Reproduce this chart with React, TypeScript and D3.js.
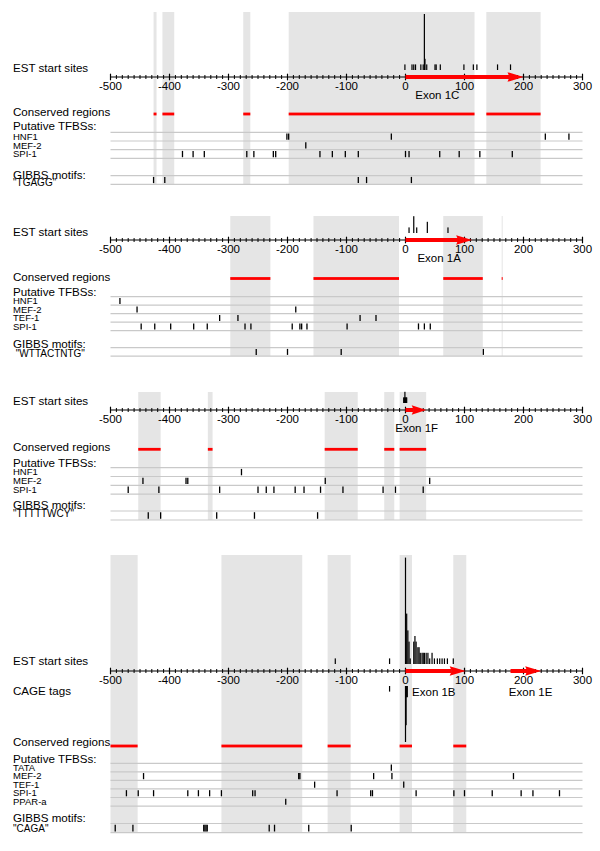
import React from "react";
import * as d3 from "d3";

// ---------- shared ----------
const AXIS_DOMAIN: [number, number] = [-500, 300];
const MAJOR_TICKS = [-500, -400, -300, -200, -100, 0, 100, 200, 300];
const MINOR_STEP = 10;

// ---------- Panel 1 : Exon 1C ----------
const p1Est: [number, number][] = [
  [-1, 1], [11, 1], [14, 1], [17, 1], [26, 1], [30, 1], [32, 10], [33, 2], [36, 1],
  [50, 1], [52, 1], [59, 1], [99, 1], [115, 1], [121, 1], [156, 1], [178, 1],
];
const p1Conserved: [number, number][] = [[-427, -422], [-412, -392], [-275, -263], [-198, 117], [137, 229]];
const p1Exons = [{ name: "Exon 1C", start: 0, end: 200, label: 54 }];
const p1TfbsNames = ["HNF1", "MEF-2", "SPI-1"];
const p1Tfbs: number[][] = [
  [-201, -198, -24, 237, 277],
  [-169],
  [-378, -360, -341, -269, -257, -224, -220, -145, -124, -102, -80, 0, 6, 58, 91, 126, 181],
];
const p1Motif = '"TGAGG"';
const p1Gibbs = [-427, -408, -80, -66, 10];

// ---------- Panel 2 : Exon 1A ----------
const p2Est: [number, number][] = [[6, 1], [14, 3], [19, 1], [37, 2], [72, 1]];
const p2Conserved: [number, number][] = [[-297, -229], [-156, -11], [64, 131], [163, 164]];
const p2Exons = [{ name: "Exon 1A", start: 0, end: 113, label: 57 }];
const p2TfbsNames = ["HNF1", "MEF-2", "TEF-1", "SPI-1"];
const p2Tfbs: number[][] = [
  [-484],
  [-455, -186],
  [-315, -284, -77, -50],
  [-448, -425, -398, -359, -336, -272, -262, -192, -179, -176, -167, -99, 22, 32, 42],
];
const p2Motif = ' "WTTACTNTG"';
const p2Gibbs = [-253, -200, -109, 132];

// ---------- Panel 3 : Exon 1F ----------
const p3Est: [number, number][] = [[-3, 1], [-2, 1], [-1, 2], [0, 1], [1, 1], [2, 1]];
const p3Conserved: [number, number][] = [[-453, -415], [-335, -327], [-137, -81], [-36, -19], [-10, 35]];
const p3Exons = [{ name: "Exon 1F", start: 0, end: 35, label: 19 }];
const p3TfbsNames = ["HNF1", "MEF-2", "SPI-1"];
const p3Tfbs: number[][] = [
  [-278],
  [-445, -372, -369, -136, 41],
  [-470, -418, -315, -250, -236, -223, -187, -172, -144, -106, -38, -17, 30],
];
const p3Motif = '"TTTTTWCY"';
const p3Gibbs = [-436, -415, -320, -256, -149];

// ---------- Panel 4 : Exon 1B / 1E ----------
const p4Est: [number, number][] = [
  [-119, 1], [-27, 1], [0, 19], [2, 9], [4, 6], [6, 4], [8, 1],
  [14, 4], [16, 5], [18, 4], [21, 3], [23, 3], [25, 2], [28, 2], [30, 2], [32, 2],
  [35, 2], [38, 2], [41, 1], [45, 2], [49, 1], [54, 1], [58, 1], [62, 1], [66, 1], [71, 1], [81, 1],
];
const p4Cage: [number, number][] = [[-27, 1], [0, 10], [1, 7], [2, 2], [3, 2]];
const p4Conserved: [number, number][] = [[-500, -454], [-312, -175], [-132, -93], [-10, 11], [81, 103]];
const p4Exons = [
  { name: "Exon 1B", start: 0, end: 102, label: 48 },
  { name: "Exon 1E", start: 178, end: 230, label: 212 },
];
const p4TfbsNames = ["TATA", "MEF-2", "TEF-1", "SPI-1", "PPAR-a"];
const p4Tfbs: number[][] = [
  [-24],
  [-444, -181, -179, -54, -23, 183],
  [-154, -3],
  [-473, -453, -427, -369, -351, -332, -312, -259, -255, -116, -59, -56, 18, 82, 100, 147, 196, 216, 261],
  [-203],
];
const p4Motif = '"CAGA"';
const p4Gibbs = [-492, -462, -342, -340, -338, -336, -231, -222, -164, -92];

// ---------- layout ----------
const panels = [
  {
    est: p1Est, cage: null as [number, number][] | null, conserved: p1Conserved, exons: p1Exons,
    tfbsNames: p1TfbsNames, tfbs: p1Tfbs, motif: p1Motif, gibbs: p1Gibbs,
    axisY: 77, grayTop: 12, consY: 114, tfbsTop: 132.3, rowH: 8.7, gibbsTop: 175.7, gibbsH: 8.6,
    estLabelY: 67, consLabelY: 111, putLabelY: 125, gibbsLabelY: 174, motifLabelY: 182,
  },
  {
    est: p2Est, cage: null, conserved: p2Conserved, exons: p2Exons,
    tfbsNames: p2TfbsNames, tfbs: p2Tfbs, motif: p2Motif, gibbs: p2Gibbs,
    axisY: 240, grayTop: 216, consY: 278.5, tfbsTop: 296.7, rowH: 8.5, gibbsTop: 347.7, gibbsH: 8.4,
    estLabelY: 231, consLabelY: 276, putLabelY: 291, gibbsLabelY: 343, motifLabelY: 353,
  },
  {
    est: p3Est, cage: null, conserved: p3Conserved, exons: p3Exons,
    tfbsNames: p3TfbsNames, tfbs: p3Tfbs, motif: p3Motif, gibbs: p3Gibbs,
    axisY: 410, grayTop: 392, consY: 449.3, tfbsTop: 467.7, rowH: 8.8, gibbsTop: 511, gibbsH: 9,
    estLabelY: 400, consLabelY: 446.7, putLabelY: 462.7, gibbsLabelY: 504, motifLabelY: 513,
  },
  {
    est: p4Est, cage: p4Cage, conserved: p4Conserved, exons: p4Exons,
    tfbsNames: p4TfbsNames, tfbs: p4Tfbs, motif: p4Motif, gibbs: p4Gibbs,
    axisY: 671, grayTop: 555, consY: 746, tfbsTop: 763.3, rowH: 8.55, gibbsTop: 823.5, gibbsH: 9.2,
    estLabelY: 660, consLabelY: 741.7, putLabelY: 758.3, gibbsLabelY: 817.7, motifLabelY: 828.5,
    cageLabelY: 690.7,
  },
];

const FONT = "'Liberation Sans', Arial, Helvetica, sans-serif";
const COUNT_PX = 5.6;

export default function App() {
  const x = d3.scaleLinear().domain(AXIS_DOMAIN).range([110.5, 582.5]);
  const minor = d3.range(AXIS_DOMAIN[0], AXIS_DOMAIN[1] + 1, MINOR_STEP);
  const x0 = x(AXIS_DOMAIN[0]);
  const x1 = x(AXIS_DOMAIN[1]);

  return (
    <svg
      width={600}
      height={851}
      style={{ position: "absolute", left: 0, top: 0, background: "#fff" }}
      fontFamily={FONT}
    >
      {panels.map((p, pi) => {
        const grayBottom = p.gibbsTop + p.gibbsH;
        const estBase = p.axisY - 7;
        const cageBase = p.axisY + 15;
        const nRows = p.tfbsNames.length;
        return (
          <g key={pi}>
            {/* shaded conserved columns */}
            {p.conserved.map(([a, b], i) => (
              <rect key={"g" + i} x={x(a)} y={p.grayTop} width={Math.max(1, x(b) - x(a))}
                height={grayBottom - p.grayTop} fill="#e5e5e5" />
            ))}

            {/* left labels */}
            <text x={13} y={p.estLabelY} fontSize={11.6} dominantBaseline="central">EST start sites</text>
            {(p as any).cageLabelY && (
              <text x={13} y={(p as any).cageLabelY} fontSize={11.6} dominantBaseline="central">CAGE tags</text>
            )}
            <text x={13} y={p.consLabelY} fontSize={11.6} dominantBaseline="central">Conserved regions</text>
            <text x={13} y={p.putLabelY} fontSize={11.6} dominantBaseline="central">Putative TFBSs:</text>
            <text x={13} y={p.gibbsLabelY} fontSize={11.6} dominantBaseline="central">GIBBS motifs:</text>
            <text x={13} y={p.motifLabelY} fontSize={10} dominantBaseline="central" xmlSpace="preserve">{p.motif}</text>

            {/* TFBS rows */}
            {d3.range(nRows + 1).map((r) => (
              <line key={"l" + r} x1={x0} x2={x1} y1={p.tfbsTop + r * p.rowH} y2={p.tfbsTop + r * p.rowH}
                stroke="#c9c9c9" strokeWidth={1.2} />
            ))}
            {p.tfbsNames.map((n, r) => (
              <text key={"n" + r} x={13} y={p.tfbsTop + r * p.rowH + p.rowH / 2 - 0.3} fontSize={9.5}
                dominantBaseline="central">{n}</text>
            ))}
            {p.tfbs.map((row, r) =>
              row.map((v, i) => (
                <line key={"t" + r + "_" + i} x1={x(v)} x2={x(v)}
                  y1={p.tfbsTop + r * p.rowH + 1.2} y2={p.tfbsTop + (r + 1) * p.rowH - 1.2}
                  stroke="#000" strokeWidth={1.3} />
              ))
            )}

            {/* GIBBS row */}
            <line x1={x0} x2={x1} y1={p.gibbsTop} y2={p.gibbsTop} stroke="#c9c9c9" strokeWidth={1.2} />
            <line x1={x0} x2={x1} y1={grayBottom} y2={grayBottom} stroke="#c9c9c9" strokeWidth={1.2} />
            {p.gibbs.map((v, i) => (
              <line key={"m" + i} x1={x(v)} x2={x(v)} y1={p.gibbsTop + 1.2} y2={grayBottom - 1.2}
                stroke="#000" strokeWidth={1.3} />
            ))}

            {/* conserved red bars */}
            {p.conserved.map(([a, b], i) => (
              <rect key={"r" + i} x={x(a)} y={p.consY - 1.4} width={Math.max(1, x(b) - x(a))} height={2.8} fill="#ff0000" />
            ))}

            {/* EST start sites */}
            {p.est.map(([v, c], i) => (
              <rect key={"e" + i} x={x(v) - 0.6} y={estBase - c * COUNT_PX} width={1.2} height={c * COUNT_PX} fill="#000" />
            ))}
            {p.cage &&
              p.cage.map(([v, c], i) => (
                <rect key={"c" + i} x={x(v) - 0.6} y={cageBase} width={1.2} height={c * COUNT_PX} fill="#000" />
              ))}

            {/* axis */}
            <line x1={x0} x2={x1} y1={p.axisY} y2={p.axisY} stroke="#000" strokeWidth={1.2} />
            {minor.map((v) => (
              <line key={"mi" + v} x1={x(v)} x2={x(v)} y1={p.axisY - 2} y2={p.axisY + 2} stroke="#000" strokeWidth={1} />
            ))}
            {MAJOR_TICKS.map((v) => (
              <g key={"ma" + v}>
                <line x1={x(v)} x2={x(v)} y1={p.axisY - 3.3} y2={p.axisY + 3.3} stroke="#000" strokeWidth={1.2} />
                <text x={x(v)} y={p.axisY + 9} fontSize={11.5} textAnchor="middle" dominantBaseline="central">{v}</text>
              </g>
            ))}

            {/* exons */}
            {p.exons.map((e, i) => {
              const xs = x(e.start);
              const xe = x(e.end);
              const head = Math.min(16, (xe - xs) * 0.7);
              const hb = xe - head;
              return (
                <g key={"x" + i}>
                  <rect x={xs} y={p.axisY - 2} width={Math.max(0, hb - xs + 2)} height={4} fill="#ff0000" />
                  <path d={`M${hb},${p.axisY - 4.8} L${xe},${p.axisY} L${hb},${p.axisY + 4.8} L${hb + 2},${p.axisY} Z`}
                    fill="#ff0000" />
                  <text x={x(e.label)} y={p.axisY + (p.cage ? 20.5 : 18)} fontSize={11.5} textAnchor="middle"
                    dominantBaseline="central">{e.name}</text>
                </g>
              );
            })}
          </g>
        );
      })}
    </svg>
  );
}
